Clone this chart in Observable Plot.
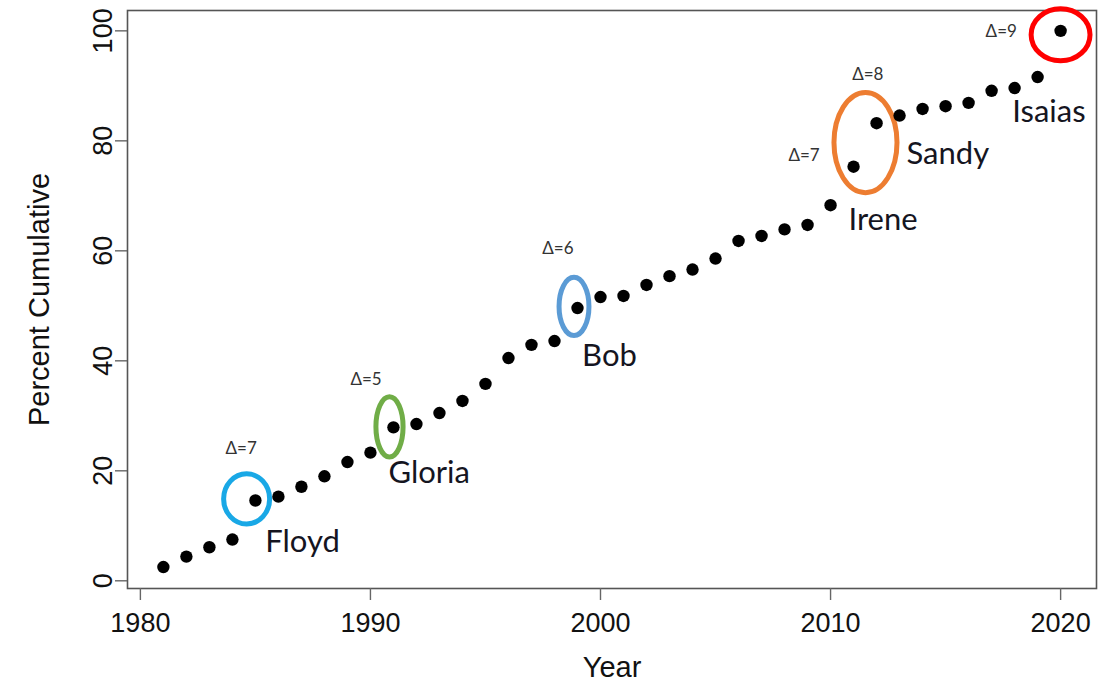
<!DOCTYPE html>
<html><head><meta charset="utf-8">
<script src="https://cdn.jsdelivr.net/npm/d3@7"></script>
<script src="https://cdn.jsdelivr.net/npm/@observablehq/plot@0.6"></script>
<style>body{margin:0;background:#fff;} #chart svg{display:block;}</style>
</head><body><div id="chart"></div>
<script>
// ---- data ----
const years = [1981,1982,1983,1984,1985,1986,1987,1988,1989,1990,
               1991,1992,1993,1994,1995,1996,1997,1998,1999,2000,
               2001,2002,2003,2004,2005,2006,2007,2008,2009,2010,
               2011,2012,2013,2014,2015,2016,2017,2018,2019,2020];
const percentCumulative = [2.5,4.4,6.1,7.5,14.6,15.3,17.1,19.0,21.6,23.3,
                           27.9,28.5,30.5,32.7,35.8,40.5,42.9,43.6,49.6,51.6,
                           51.8,53.8,55.4,56.6,58.6,61.8,62.7,63.9,64.7,68.3,
                           75.3,83.2,84.6,85.8,86.3,86.9,89.1,89.6,91.6,100.0];
const xTicks = [1980,1990,2000,2010,2020];
const yTicks = [0,20,40,60,80,100];

const stormNames = ["Floyd","Gloria","Bob","Irene","Sandy","Isaias"];
const stormLabelYear = [1985.43,1990.78,1999.2,2010.78,2013.3,2017.9];
const stormLabelPct  = [5.16,17.7,39.1,63.74,75.8,83.4];

const deltaLabels = ["Δ=7","Δ=5","Δ=6","Δ=7","Δ=8","Δ=9"];
const deltaYear = [1983.7,1989.13,1997.47,2008.17,2010.94,2016.74];
const deltaPct  = [23.0,35.6,59.4,76.4,91.0,98.9];

// highlight rings: centre (year, percent) and half extents in data units
const ringYear = [1984.64,1990.85,1998.87,2011.54,2020.02];
const ringPct  = [14.8,27.9,49.8,79.6,99.2];
const ringHalfYears = [1.0,0.59,0.65,1.37,1.28];
const ringHalfPct   = [4.56,5.47,5.29,9.12,4.74];
const ringColors = ["#19a8e6","#70ad47","#5b9bd5","#ed7d31","#ff0000"];

// ---- tables ----
const points = years.map((y,i)=>({year:y, pct:percentCumulative[i]}));
const names = stormNames.map((n,i)=>({name:n, year:stormLabelYear[i], pct:stormLabelPct[i]}));
const deltas = deltaLabels.map((t,i)=>({t, year:deltaYear[i], pct:deltaPct[i]}));
const rings = ringYear.map((y,i)=>({year:y, pct:ringPct[i], hw:ringHalfYears[i], hh:ringHalfPct[i], color:ringColors[i]}));

const axisFont = "'Liberation Sans', Arial, sans-serif";
const chart = Plot.plot({
  width: 1117,
  height: 684,
  marginLeft: 127,
  marginRight: 21,
  marginTop: 10,
  marginBottom: 96,
  style: {fontFamily: axisFont, background: "#fff", color: "#111"},
  x: {domain: [1979.44, 2021.56]},
  y: {domain: [-1.4, 103.7]},
  marks: [
    Plot.frame({stroke: "#555", strokeWidth: 1.6}),
    Plot.axisX({ticks: xTicks, tickFormat: d3.format("d"), tickSize: 12, tickPadding: 12,
      fontSize: 27, fontFamily: axisFont, fill: "#111", stroke: "#666", strokeWidth: 1.4, label: null}),
    Plot.axisX({ticks: [], label: "Year", labelAnchor: "center", labelArrow: "none", labelOffset: 88,
      fontSize: 29, fontFamily: axisFont, fill: "#111"}),
    Plot.axisY({ticks: yTicks, tickSize: 12, tickRotate: -90, tickPadding: 4,
      fontSize: 27, fontFamily: axisFont, fill: "#111", stroke: "#666", strokeWidth: 1.4, label: null}),
    Plot.axisY({ticks: [], label: "Percent Cumulative", labelAnchor: "center", labelArrow: "none", labelOffset: 99,
      fontSize: 29, fontFamily: axisFont, fill: "#111"}),
    Plot.dot(rings, {x: "year", y: "pct", render(index, scales, values) {
      const g = d3.create("svg:g");
      for (const i of index) {
        const d = rings[i];
        const cx = values.x[i], cy = values.y[i];
        const rx = Math.abs(scales.x(d.year + d.hw) - cx);
        const ry = Math.abs(scales.y(d.pct + d.hh) - cy);
        g.append("ellipse").attr("cx", cx).attr("cy", cy).attr("rx", rx).attr("ry", ry)
          .attr("fill", "none").attr("stroke", d.color).attr("stroke-width", 5);
      }
      return g.node();
    }}),
    Plot.dot(points, {x: "year", y: "pct", r: 6.2, fill: "#000", stroke: "none"}),
    Plot.text(names, {x: "year", y: "pct", text: "name", textAnchor: "start", lineAnchor: "bottom",
      fontSize: 31, fontFamily: "Lato, 'Open Sans', sans-serif", fill: "#15151f"}),
    Plot.text(deltas, {x: "year", y: "pct", text: "t", textAnchor: "start", lineAnchor: "bottom",
      fontSize: 17, fontFamily: "Lato, 'Open Sans', sans-serif", fill: "#333"})
  ]
});
document.getElementById("chart").appendChild(chart);
</script>
</body></html>
